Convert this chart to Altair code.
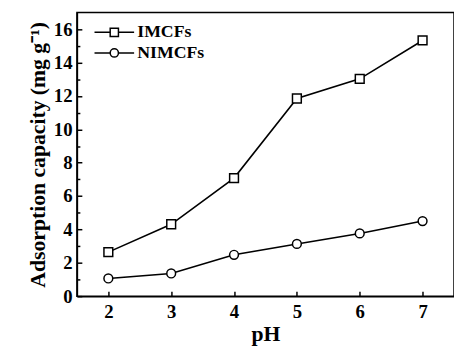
import altair as alt
import pandas as pd

# ---- data ----
ph = [2, 3, 4, 5, 6, 7]
imcfs = [2.64, 4.31, 7.08, 11.85, 13.03, 15.33]
nimcfs = [1.06, 1.36, 2.48, 3.13, 3.76, 4.50]
series = ["IMCFs", "NIMCFs"]
shapes = ["square", "circle"]
x_tick_values = [2, 2.5, 3, 3.5, 4, 4.5, 5, 5.5, 6, 6.5, 7]
y_tick_values = list(range(0, 17))

rows = []
for name, vals in zip(series, [imcfs, nimcfs]):
    for p, v in zip(ph, vals):
        rows.append({"series": name, "pH": p, "value": v})
df = pd.DataFrame(rows)

# legend placement (data units)
leg_x1, leg_x2, leg_xm, leg_tx = 1.78, 2.41, 2.095, 2.46
leg_y = [15.82, 14.58]
leg_df = pd.DataFrame({"series": series, "shape": shapes, "ly": leg_y,
                       "x1": [leg_x1] * 2, "x2": [leg_x2] * 2,
                       "xm": [leg_xm] * 2, "tx": [leg_tx] * 2})

FONT = "Liberation Serif"
XT = "pH"
YT = "Adsorption capacity (mg g\u207b\u00b9)"

xscale = alt.Scale(domain=[1.5, 7.5], nice=False, zero=False)
yscale = alt.Scale(domain=[0, 17], nice=False, zero=True)

xaxis = alt.Axis(values=x_tick_values, title=XT, format="d", labelOverlap=False,
                 labelExpr="datum.value % 1 === 0 ? datum.label : ''",
                 tickSize={"expr": "datum.value % 1 === 0 ? -5 : -3"},
                 grid=False)
yaxis = alt.Axis(values=y_tick_values, title=YT,
                 format="d", labelOverlap=False,
                 labelExpr="datum.value % 2 === 0 ? datum.label : ''",
                 tickSize={"expr": "datum.value % 2 === 0 ? -5 : -3"},
                 grid=False)


def xe(field):
    return alt.X(field, scale=xscale, axis=xaxis, title=XT)


def ye(field):
    return alt.Y(field, scale=yscale, axis=yaxis, title=YT)


base = alt.Chart(df)
lines = base.mark_line(color="black", strokeWidth=1.6).encode(
    x=xe("pH:Q"), y=ye("value:Q"), detail="series:N")
points = base.mark_point(filled=True, fill="white", stroke="black", strokeWidth=1.5,
                         size=80, opacity=1).encode(
    x=xe("pH:Q"), y=ye("value:Q"),
    shape=alt.Shape("series:N", scale=alt.Scale(domain=series, range=shapes), legend=None))

leg = alt.Chart(leg_df)
leg_rules = leg.mark_rule(color="black", strokeWidth=1.6).encode(
    x=xe("x1:Q"), x2="x2:Q", y=ye("ly:Q"))
leg_pts = leg.mark_point(filled=True, fill="white", stroke="black", strokeWidth=1.5,
                         size=70, opacity=1).encode(
    x=xe("xm:Q"), y=ye("ly:Q"),
    shape=alt.Shape("series:N", scale=alt.Scale(domain=series, range=shapes), legend=None))
leg_txt = leg.mark_text(align="left", baseline="middle", font=FONT, fontWeight="bold",
                        fontSize=18, color="black").encode(
    x=xe("tx:Q"), y=ye("ly:Q"), text="series:N")

chart = alt.layer(lines, points, leg_rules, leg_pts, leg_txt).properties(
    width=383, height=288,
    autosize=alt.AutoSizeParams(type="none"),
    padding={"left": 70, "top": 2, "right": 0, "bottom": 51},
).configure_view(stroke="black", strokeWidth=1.5).configure_axis(
    domainColor="black", domainWidth=1.5, tickColor="black", tickWidth=1.5,
    labelFont=FONT, labelFontWeight="bold", labelFontSize=19, labelColor="black",
    titleFont=FONT, titleFontWeight="bold", titleFontSize=22, titleColor="black",
).configure_axisX(labelPadding=12, titlePadding=2).configure_axisY(labelPadding=10, titlePadding=4)

chart.save("out.html", embed_options={"renderer": "svg", "actions": False})
